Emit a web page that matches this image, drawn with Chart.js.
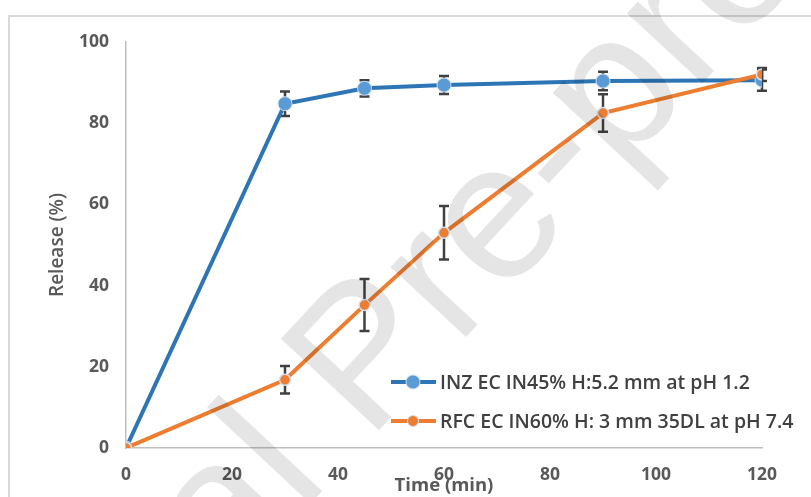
<!DOCTYPE html>
<html lang="en">
<head>
<meta charset="UTF-8">
<title>Release profile</title>
<style>
  html, body { margin: 0; padding: 0; background: #fff; }
  #wrap { width: 811px; height: 497px; }
</style>
</head>
<body>
<div id="wrap"><canvas id="myChart" width="811" height="497"></canvas></div>

<script src="https://cdn.jsdelivr.net/npm/chart.js@4.4.0/dist/chart.umd.min.js"></script>
<script>
// data
var timePoints = [0, 30, 45, 60, 90, 120];
var inzRelease = [0, 84.8, 88.6, 89.4, 90.4, 90.6];
var inzError   = [0, 3.0, 2.0, 2.2, 2.3, 2.6];
var rfcRelease = [0, 16.8, 35.2, 53.0, 82.5, 92.0];
var rfcError   = [0, 3.4, 6.4, 6.6, 4.6, 1.6];
var seriesLabels = ['INZ EC IN45% H:5.2 mm at pH 1.2', 'RFC EC IN60% H: 3 mm 35DL at pH 7.4'];
var xTickStep = 20;
var yTickStep = 20;

var tickFont = { family: 'Open Sans', size: 17.5, weight: 'bold' };
var textGray = '#595959';

function toPoints(ys) {
    return timePoints.map(function (t, i) { return { x: t, y: ys[i] }; });
}

// vertical error bars, drawn under the markers
var errorBars = {
    id: 'errorBars',
    beforeDatasetsDraw: function (chart) {
        var ctx = chart.ctx;
        var xs = chart.scales.x, ys = chart.scales.y;
        ctx.save();
        ctx.strokeStyle = '#404040';
        ctx.lineWidth = 2.5;
        chart.data.datasets.forEach(function (ds) {
            ds.data.forEach(function (p, i) {
                var e = ds.errors[i];
                if (!e) return;
                var px = xs.getPixelForValue(p.x);
                var top = ys.getPixelForValue(p.y + e);
                var bot = ys.getPixelForValue(p.y - e);
                ctx.beginPath();
                ctx.moveTo(px, top); ctx.lineTo(px, bot);
                ctx.moveTo(px - 5, top); ctx.lineTo(px + 5, top);
                ctx.moveTo(px - 5, bot); ctx.lineTo(px + 5, bot);
                ctx.stroke();
            });
        });
        ctx.restore();
    }
};

// frame, legend inside the plot, watermark
var decor = {
    id: 'decor',
    beforeDraw: function (chart) {
        var ctx = chart.ctx;
        ctx.save();
        ctx.strokeStyle = '#d9d9d9';
        ctx.lineWidth = 2;
        ctx.beginPath();
        ctx.moveTo(9, chart.height);
        ctx.lineTo(9, 16);
        ctx.lineTo(chart.width, 16);
        ctx.stroke();
        ctx.restore();
    },
    afterDraw: function (chart) {
        var ctx = chart.ctx;
        ctx.save();
        // legend
        var rows = [382, 421];
        chart.data.datasets.forEach(function (ds, i) {
            var y = rows[i];
            ctx.strokeStyle = ds.borderColor;
            ctx.lineWidth = 4;
            ctx.beginPath();
            ctx.moveTo(391, y); ctx.lineTo(436, y);
            ctx.stroke();
            ctx.beginPath();
            ctx.arc(413, y, ds.pointRadius, 0, Math.PI * 2);
            ctx.fillStyle = ds.pointBackgroundColor;
            ctx.fill();
            ctx.lineWidth = 1;
            ctx.strokeStyle = ds.pointBorderColor;
            ctx.stroke();
            ctx.fillStyle = '#404040';
            ctx.font = '600 19.5px "Open Sans"';
            ctx.textBaseline = 'middle';
            ctx.fillText(ds.label, 440, y + 1);
        });
        // watermark
        ctx.translate(368, 442);
        ctx.rotate(-47 * Math.PI / 180);
        ctx.font = '195px "Liberation Sans"';
        ctx.fillStyle = 'rgba(0,0,0,0.1)';
        ctx.textBaseline = 'alphabetic';
        var lead = ctx.measureText('Journal ').width;
        ctx.fillText('Journal Pre-proof', -lead, 0);
        ctx.restore();
    }
};

var ctx = document.getElementById('myChart').getContext('2d');
var myChart = new Chart(ctx, {
    type: 'line',
    data: {
        datasets: [
            {
                label: seriesLabels[0],
                data: toPoints(inzRelease),
                errors: inzError,
                borderColor: '#2E75B6',
                borderWidth: 4,
                pointRadius: 7,
                pointBackgroundColor: '#5B9BD5',
                pointBorderColor: '#c9ddf0',
                pointBorderWidth: 1,
                tension: 0,
                order: 2
            },
            {
                label: seriesLabels[1],
                data: toPoints(rfcRelease),
                errors: rfcError,
                borderColor: '#ED7D31',
                borderWidth: 4,
                pointRadius: 5.5,
                pointBackgroundColor: '#ED7D31',
                pointBorderColor: '#cfe2f3',
                pointBorderWidth: 1.5,
                tension: 0,
                order: 1
            }
        ]
    },
    options: {
        responsive: false,
        animation: false,
        layout: { padding: { left: 0, right: 49, top: 42, bottom: 0 } },
        plugins: { legend: { display: false }, tooltip: { enabled: false } },
        scales: {
            x: {
                type: 'linear',
                min: 0, max: 120,
                ticks: { stepSize: xTickStep, color: textGray, font: tickFont, padding: 17 },
                grid: { display: false, drawTicks: false },
                border: { color: '#bfbfbf', width: 1.5 },
                title: { display: true, text: 'Time (min)', color: textGray,
                         font: { family: 'Open Sans', size: 18.5, weight: 'bold' }, padding: 0 },
                afterFit: function (s) { s.height = 49; }
            },
            y: {
                min: 0, max: 100,
                ticks: { stepSize: yTickStep, color: textGray, font: tickFont, padding: 17 },
                grid: { display: false, drawTicks: false },
                border: { color: '#bfbfbf', width: 1.5 },
                title: { display: true, text: 'Release (%)', color: textGray,
                         font: { family: 'Open Sans', size: 19, weight: '600' }, padding: { top: 46, bottom: 0 } },
                afterFit: function (s) { s.width = 126; }
            }
        }
    },
    plugins: [errorBars, decor]
});
</script>
</body>
</html>
